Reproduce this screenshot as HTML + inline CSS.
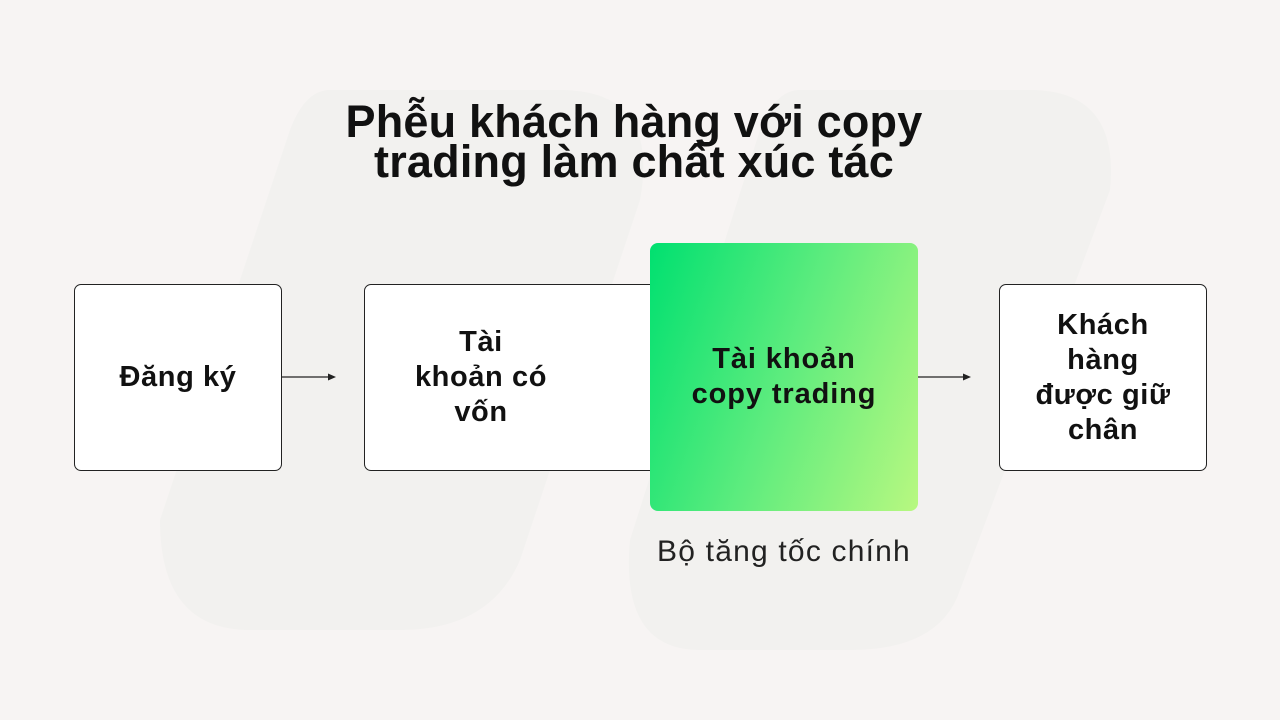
<!DOCTYPE html>
<html><head><meta charset="utf-8"><style>
body{margin:0;width:1280px;height:720px;background:#f7f4f3;position:relative;overflow:hidden;font-family:"Liberation Sans","DejaVu Sans",sans-serif;color:#111}
.t{position:absolute;left:0;width:1268px;text-align:center;font-weight:bold;font-size:45px;line-height:40px;top:102px;letter-spacing:0.2px}
.b{position:absolute;background:#fff;border:1px solid #222;border-radius:7px;box-sizing:border-box;display:flex;align-items:center;justify-content:center;text-align:center;font-weight:bold;font-size:29px;line-height:35px;letter-spacing:0.6px}
.g{position:absolute;left:650px;top:243px;width:268px;height:268px;border-radius:8px;background:linear-gradient(110deg,#00e070 0%,#5eec7e 50%,#b8f880 100%);display:flex;align-items:center;justify-content:center;text-align:center;font-weight:bold;font-size:29px;line-height:35px;letter-spacing:0.9px}
.cap{position:absolute;left:600px;width:368px;top:535px;text-align:center;font-size:30px;color:#222;letter-spacing:1.2px}
</style></head><body>
<svg width="1280" height="720" style="position:absolute;left:0;top:0">
<path d="M330 90 L560 90 Q660 90 640 200 L520 560 Q490 630 400 630 L250 630 Q160 630 160 520 L290 130 Q305 90 330 90Z" fill="#f2f1ef"/>
<path d="M800 90 L1030 90 Q1120 90 1110 190 L960 590 Q940 650 850 650 L700 650 Q620 650 630 540 L760 130 Q775 90 800 90Z" fill="#f2f1ef"/>
<line x1="282" y1="377" x2="332" y2="377" stroke="#222" stroke-width="1.2"/>
<path d="M336 377 L328 373.5 L328 380.5Z" fill="#222"/>
<line x1="918" y1="377" x2="967" y2="377" stroke="#222" stroke-width="1.2"/>
<path d="M971 377 L963 373.5 L963 380.5Z" fill="#222"/>
</svg>
<div class="t">Phễu khách hàng với copy<br>trading làm chất xúc tác</div>
<div class="b" style="left:74px;top:284px;width:208px;height:187px">Đăng ký</div>
<div class="b" style="left:364px;top:284px;width:300px;height:187px;justify-content:flex-start"><div style="width:232px">Tài<br>khoản có<br>vốn</div></div>
<div class="g">Tài khoản<br>copy trading</div>
<div class="b" style="left:999px;top:284px;width:208px;height:187px">Khách<br>hàng<br>được giữ<br>chân</div>
<div class="cap">Bộ tăng tốc chính</div>
</body></html>
